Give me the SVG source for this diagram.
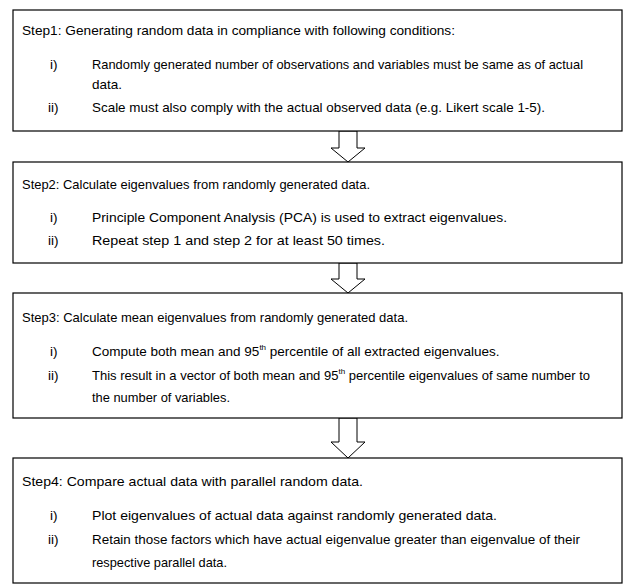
<svg xmlns="http://www.w3.org/2000/svg" width="625" height="585" viewBox="0 0 625 585">
  <style>
    .box { fill: #ffffff; stroke: #000000; stroke-width: 1.2; }
    .arrow { fill: #ffffff; stroke: #000000; stroke-width: 1; }
    text { font-family: "Liberation Sans", Arial, sans-serif; font-size: 13.5px; fill: #000000; }
    .sup { font-size: 8px; }
  </style>
  <rect width="625" height="585" fill="#ffffff"/>

  <!-- block arrows between the steps -->
  <g id="connectors">
    <path class="arrow" d="M339,131 L357,131 L357,148 L365,148 L348,162 L331,148 L339,148 Z"/>
    <path class="arrow" d="M339,263 L357,263 L357,279 L365,279 L348,293 L331,279 L339,279 Z"/>
    <path class="arrow" d="M339,418 L357,418 L357,442 L365,442 L348,458 L331,442 L339,442 Z"/>
  </g>

  <g id="step1">
    <rect class="box" x="13" y="10" width="609" height="121"/>
    <text x="22" y="35" textLength="433" lengthAdjust="spacingAndGlyphs">Step1: Generating random data in compliance with following conditions:</text>
    <text x="50" y="69">i)</text>
    <text x="92" y="69" textLength="491" lengthAdjust="spacingAndGlyphs">Randomly generated number of observations and variables must be same as of actual</text>
    <text x="92" y="89">data.</text>
    <text x="48" y="112">ii)</text>
    <text x="92" y="112" textLength="453" lengthAdjust="spacingAndGlyphs">Scale must also comply with the actual observed data (e.g. Likert scale 1-5).</text>
  </g>

  <g id="step2">
    <rect class="box" x="13" y="162" width="609" height="101"/>
    <text x="22" y="189" textLength="348" lengthAdjust="spacingAndGlyphs">Step2: Calculate eigenvalues from randomly generated data.</text>
    <text x="50" y="222">i)</text>
    <text x="92" y="222" textLength="415" lengthAdjust="spacingAndGlyphs">Principle Component Analysis (PCA) is used to extract eigenvalues.</text>
    <text x="48" y="245">ii)</text>
    <text x="92" y="245" textLength="293" lengthAdjust="spacingAndGlyphs">Repeat step 1 and step 2 for at least 50 times.</text>
  </g>

  <g id="step3">
    <rect class="box" x="13" y="293" width="609" height="125"/>
    <text x="22" y="322" textLength="386" lengthAdjust="spacingAndGlyphs">Step3: Calculate mean eigenvalues from randomly generated data.</text>
    <text x="50" y="356">i)</text>
    <text x="92" y="356">Compute both mean and 95<tspan class="sup" dy="-6">th</tspan><tspan dy="6"> percentile of all extracted eigenvalues.</tspan></text>
    <text x="48" y="380">ii)</text>
    <text x="92" y="380" style="font-size:13px">This result in a vector of both mean and 95<tspan class="sup" dy="-6">th</tspan><tspan dy="6"> percentile eigenvalues of same number to</tspan></text>
    <text x="92" y="402" textLength="138" lengthAdjust="spacingAndGlyphs">the number of variables.</text>
  </g>

  <g id="step4">
    <rect class="box" x="13" y="458" width="609" height="125"/>
    <text x="22" y="486" textLength="341" lengthAdjust="spacingAndGlyphs">Step4: Compare actual data with parallel random data.</text>
    <text x="50" y="520">i)</text>
    <text x="92" y="520" textLength="405" lengthAdjust="spacingAndGlyphs">Plot eigenvalues of actual data against randomly generated data.</text>
    <text x="48" y="544">ii)</text>
    <text x="92" y="544" textLength="488" lengthAdjust="spacingAndGlyphs">Retain those factors which have actual eigenvalue greater than eigenvalue of their</text>
    <text x="92" y="567" textLength="135" lengthAdjust="spacingAndGlyphs">respective parallel data.</text>
  </g>
</svg>
